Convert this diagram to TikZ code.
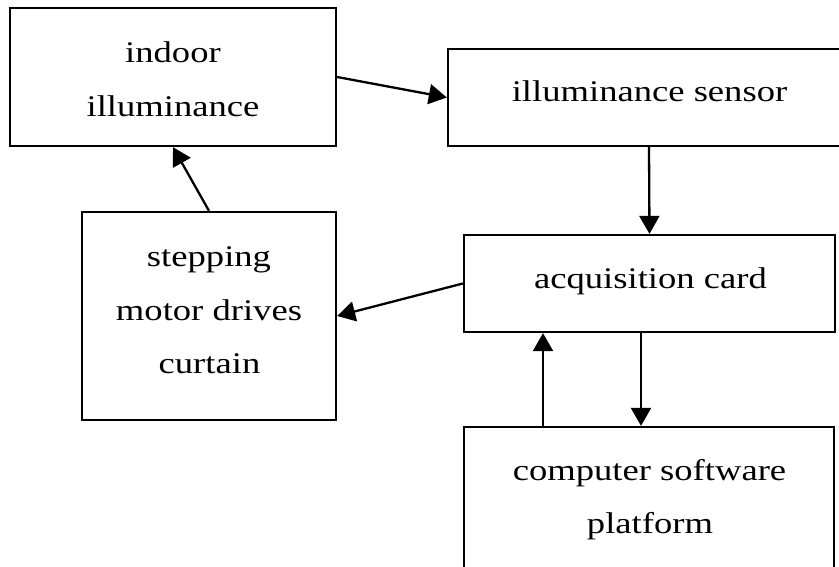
\documentclass[tikz,border=0pt]{standalone}
\usepackage{fontspec}
\usepackage{graphicx}
\setmainfont{Liberation Serif}
\usetikzlibrary{arrows.meta}
\newcommand\hstretch[1]{\scalebox{1.22}[1]{#1}}
\tikzset{
  blockbox/.style={draw=black, line width=2.3pt, rectangle, inner sep=0pt},
  lbl/.style={anchor=base, inner sep=0pt, font=\fontsize{30}{36}\selectfont, text=black},
  arr/.style={line width=2.3pt, -{Triangle[length=18pt,width=20pt]}}
}
\begin{document}
\begin{tikzpicture}[x=1pt,y=-1pt]
\clip (0,0) rectangle (839,567);
\fill[white] (0,0) rectangle (839,567);
% boxes
\node[blockbox, minimum width=326pt, minimum height=138pt] (b1) at (173,77) {};
\node[blockbox, minimum width=402pt, minimum height=97pt] (b2) at (649,97.5) {};
\node[blockbox, minimum width=371pt, minimum height=97pt] (b3) at (649.5,283.5) {};
\node[blockbox, minimum width=254pt, minimum height=208pt] (b4) at (209,316) {};
\node[blockbox, minimum width=370pt, minimum height=173pt] (b5) at (649,513.5) {};
% texts
\node[lbl] (t1a) at (173,63) {\hstretch{indoor}};
\node[lbl] (t1b) at (173,117) {\hstretch{illuminance}};
\node[lbl] (t2) at (649.5,102) {\hstretch{illuminance sensor}};
\node[lbl] (t3) at (650.5,288) {\hstretch{acquisition card}};
\node[lbl] (t4a) at (209,266) {\hstretch{stepping}};
\node[lbl] (t4b) at (209,320) {\hstretch{motor drives}};
\node[lbl] (t4c) at (209.5,373) {\hstretch{curtain}};
\node[lbl] (t5a) at (649.5,480) {\hstretch{computer software}};
\node[lbl] (t5b) at (650,533) {\hstretch{platform}};
% arrows
\draw[arr] (b1.east) -- (b2.west);
\draw[arr] (b2.south) -- (b3.north);
\draw[arr] (b3.west) -- (b4.east);
\draw[arr] (b4.north) -- (b1.south);
\draw[arr] ([xshift=-8.5pt]b3.south) -- ([xshift=-8pt]b5.north);
\draw[arr] ([xshift=-106pt]b5.north) -- ([xshift=-106.5pt]b3.south);
\end{tikzpicture}
\end{document}
